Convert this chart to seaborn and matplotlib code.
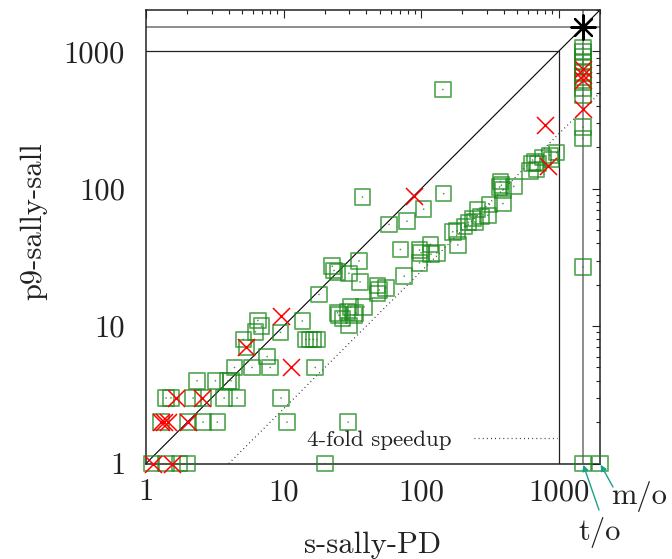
import numpy as np
import pandas as pd
import matplotlib
matplotlib.use('Agg')
import matplotlib.pyplot as plt
import seaborn as sns
from matplotlib.ticker import LogLocator, FixedLocator, NullFormatter, FixedFormatter

TO = 1500   # time-out
MO = 2000   # memory-out

# green squares (s-sally-PD, p9-sally-sall)
sq_x = [1.1, 1.4, 1.75, 2.0, 20, TO, MO,
        1.29, 2.02, 2.6, 3.3, 10.6, 29.5,
        1.4, 1.52, 2.2, 2.6, 3.7, 4.6, 9.6,
        2.35, 3.2, 3.95, 4.15,
        4.4, 5.9, 8.0, 17.0,
        7.6, 5.4, 5.1, 6.25, 6.9, 6.5, 9.5, 13.7,
        14.5, 15.5, 16.5, 17.5, 18.1,
        22.6, 23.3, 24.7, 29.9, 35.4, 36,
        48.4, 49.6, 48.4, 55.4,
        25.3, 26.8, 29.1, 32.5, 38.5, 29.9, 30.8, 24.7, 33.4,
        37.5, 58.5, 78.9, 70.7, 104.5, 146, 144,
        97.5, 100, 117, 118, 130, 97.5, 75.4,
        170, 183, 185, 207, 221, 239, 246, 258, 272, 306, 314, 394,
        384, 372, 394, 472, 378,
        618, 691, 643, 711, 671, 889, 773, 865, 967,
        TO, TO, TO, TO, TO, TO, TO, TO, TO, TO, TO, TO, TO]
sq_y = [1, 1, 1, 1, 1, 1, 1,
        2, 2, 2, 2, 2, 2,
        3, 3, 3, 3, 3, 3, 3,
        4, 4, 4, 4,
        5, 5, 5, 5,
        6, 7, 8.0, 9.1, 10, 11.0, 9.0, 10.9,
        8, 8, 8, 8, 17.0,
        27.3, 25.4, 24.8, 24.2, 29.8, 21.0,
        19.8, 18.3, 17.3, 19.0,
        12.0, 11.4, 12.7, 12.0, 13.8, 10.1, 13.8, 12.5, 12.5,
        87, 55, 58, 36.1, 71, 92, 527,
        35.8, 34.2, 39.4, 33.4, 34.2, 28.9, 23.1,
        48.6, 49.3, 39, 53, 57, 60.5, 57.3, 70.5, 63, 64, 77, 78,
        106, 103, 98, 104, 113,
        135, 138, 153, 153, 157, 163, 169, 175, 183,
        1064, 988, 910, 836, 769, 707, 650, 598, 535, 479, 281, 232, 27]

# red crosses
cr_x = [1.12, 1.55, 1.29, 1.35, 1.45, 2.02, 1.65, 2.55, 11.3, 5.3, 9.6,
        89.5, 843, 803, TO, TO, TO, TO]
cr_y = [1, 1, 2, 2, 2, 2, 3, 3, 5, 7, 11.8,
        88, 147, 290, 748, 669, 615, 383]

# black star (both timed out)
st_x = [TO]
st_y = [TO]

tick_vals = [1, 10, 100, 1000]
tick_labels = ['1', '10', '100', '1000']

sns.set_theme(style='white')
plt.rcParams['font.family'] = ['cmr10', 'DejaVu Serif']
plt.rcParams['axes.formatter.use_mathtext'] = True
plt.rcParams['mathtext.fontset'] = 'cm'

fig = plt.figure(figsize=(6.72, 5.59), dpi=100)
ax = fig.add_axes([146 / 672, 1 - 463.5 / 559, 454 / 672, 453.5 / 559])
ax.set_xscale('log')
ax.set_yscale('log')
ax.set_xlim(1, MO)
ax.set_ylim(1, MO)

# reference lines
ax.plot([1, MO], [1, MO], color='black', lw=0.8, zorder=1)
ax.plot([1, 1000], [1000, 1000], color='#222222', lw=0.9, zorder=1)
ax.plot([1000, 1000], [1, 1000], color='#222222', lw=0.9, zorder=1)
ax.plot([1, MO], [TO, TO], color='#7a7a7a', lw=1.2, zorder=1)
ax.plot([TO, TO], [1, MO], color='#7a7a7a', lw=1.2, zorder=1)
speed, = ax.plot([4, MO], [1, MO / 4], color='#222222', lw=0.9,
                 ls=(0, (0.7, 2.6)), zorder=1, label='4-fold speedup')

green = '#1a881a'
df_sq = pd.DataFrame({'x': sq_x, 'y': sq_y})
df_cr = pd.DataFrame({'x': cr_x, 'y': cr_y})
df_st = pd.DataFrame({'x': st_x, 'y': st_y})

sns.scatterplot(data=df_sq, x='x', y='y', marker='s', s=125, color=green,
                facecolor='none', edgecolor=green, linewidth=1.3, alpha=0.7,
                ax=ax, legend=False, clip_on=False, zorder=3)
sns.scatterplot(data=df_sq, x='x', y='y', marker='o', s=1.5, color=green,
                edgecolor='none', linewidth=0, alpha=0.8,
                ax=ax, legend=False, clip_on=False, zorder=3)
sns.scatterplot(data=df_cr, x='x', y='y', marker='x', s=150, color='red',
                linewidth=1.1, ax=ax, legend=False, clip_on=False, zorder=4)
sns.scatterplot(data=df_st, x='x', y='y', marker=(8, 2, 0), s=300, color='black',
                linewidth=1.6, ax=ax, legend=False, clip_on=False, zorder=5)

# ticks
for axis in (ax.xaxis, ax.yaxis):
    axis.set_major_locator(FixedLocator(tick_vals))
    axis.set_major_formatter(FixedFormatter(tick_labels))
    axis.set_minor_locator(LogLocator(base=10, subs=np.arange(2, 10), numticks=20))
    axis.set_minor_formatter(NullFormatter())
ax.tick_params(which='both', direction='in', top=True, right=True, width=0.8,
               color='#222222', labelsize=22, labelcolor='#222222')
ax.tick_params(which='major', length=6)
ax.tick_params(which='minor', length=3)
ax.tick_params(axis='x', pad=11)
ax.tick_params(axis='y', pad=15)
for sp in ax.spines.values():
    sp.set_color('#222222')
    sp.set_linewidth(1.1)

ax.set_xlabel('s-sally-PD', fontsize=22, color='#222222')
ax.set_ylabel('p9-sally-sall', fontsize=22, color='#222222')
ax.xaxis.set_label_coords(0.5, -0.15)
ax.yaxis.set_label_coords(-0.218, 0.535)

leg = ax.legend(handles=[speed], loc='center right', bbox_to_anchor=(0.905, 0.052),
                frameon=False, markerfirst=False, fontsize=16.5, handlelength=3.6,
                handletextpad=1.0, borderpad=0, borderaxespad=0)
for t in leg.get_texts():
    t.set_color('#222222')

teal = '#1aa08a'
ax.annotate('', xy=(TO, 1), xytext=(599, 559 - 510), textcoords='figure pixels',
            arrowprops=dict(arrowstyle='-|>', color=teal, lw=1.0, mutation_scale=9,
                            shrinkA=0, shrinkB=1), annotation_clip=False)
ax.annotate('', xy=(MO, 1), xytext=(613, 559 - 487), textcoords='figure pixels',
            arrowprops=dict(arrowstyle='-|>', color=teal, lw=1.0, mutation_scale=9,
                            shrinkA=0, shrinkB=1), annotation_clip=False)
fig.text(600 / 672, 1 - 533 / 559, 't/o', ha='center', va='center', fontsize=22,
         color='#222222')
fig.text(639 / 672, 1 - 497 / 559, 'm/o', ha='center', va='center', fontsize=22,
         color='#222222')

fig.savefig('out.png', dpi=100)
